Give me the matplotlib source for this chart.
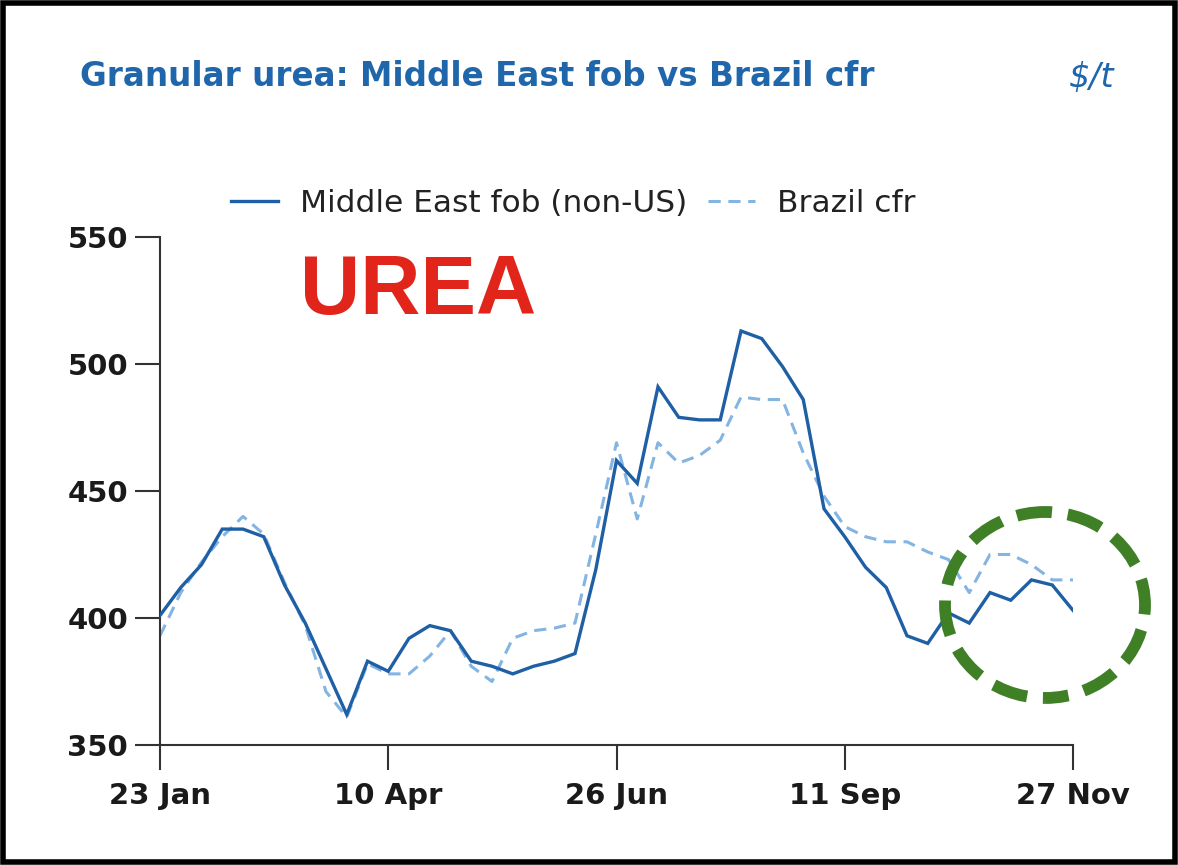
import matplotlib
matplotlib.use("Agg")
import matplotlib.pyplot as plt
from matplotlib.patches import Rectangle, Ellipse

plt.rcParams['font.family'] = ['DejaVu Sans']

weeks = list(range(45))
tick_pos = [0, 11, 22, 33, 44]
tick_labels = ["23 Jan", "10 Apr", "26 Jun", "11 Sep", "27 Nov"]
y_ticks = [350, 400, 450, 500, 550]

middle_east = [401, 412, 421, 435, 435, 432, 413, 398, 380, 362,
               383, 379, 392, 397, 395, 383, 381, 378, 381, 383,
               386, 419, 462, 453, 491, 479, 478, 478, 513, 510,
               499, 486, 443, 432, 420, 412, 393, 390, 402, 398,
               410, 407, 415, 413, 403]
brazil = [393, 410, 422, 432, 440, 433, 414, 397, 371, 361,
          382, 378, 378, 385, 395, 381, 375, 392, 395, 396,
          398, 433, 469, 439, 469, 461, 464, 470, 487, 486,
          486, 465, 448, 436, 432, 430, 430, 426, 423, 410,
          425, 425, 421, 415, 415]

fig = plt.figure(figsize=(11.78, 8.65), dpi=100)
ax = fig.add_axes([160/1178, 1-745/865, (1073-160)/1178, (745-237)/865])

l1, = ax.plot(weeks, middle_east, color='#1f5fa5', lw=2.4, label='Middle East fob (non-US)',
              solid_joinstyle='miter', zorder=3)
l2, = ax.plot(weeks, brazil, color='#84b4e2', lw=2.2, label='Brazil cfr',
              dashes=(4, 2.5), zorder=2)

ax.set_xlim(0, 44)
ax.set_ylim(350, 550)
ax.set_xticks(tick_pos)
ax.set_xticklabels(tick_labels)
ax.set_yticks(y_ticks)
for s in ['top', 'right']:
    ax.spines[s].set_visible(False)
for s in ['left', 'bottom']:
    ax.spines[s].set_color('#333333')
    ax.spines[s].set_linewidth(1.5)
ax.tick_params(axis='both', length=18, width=1.5, color='#333333',
               labelsize=21, labelcolor='#1a1a1a')
ax.tick_params(axis='y', pad=5)
ax.tick_params(axis='x', pad=9)
for lab in ax.get_xticklabels() + ax.get_yticklabels():
    lab.set_fontweight('bold')

fig.text(80/1178, 1-76/865, 'Granular urea: Middle East fob vs Brazil cfr',
         color='#1f66aa', fontsize=23.5, fontweight='bold', ha='left', va='center')
fig.text(1115/1178, 1-77/865, r'\$/t', color='#1f66aa', fontsize=24,
         style='italic', ha='right', va='center')

fig.legend(handles=[l1, l2], loc='center', bbox_to_anchor=(573/1178, 1-203/865),
           ncol=2, frameon=False, fontsize=22.5, handlelength=1.5,
           handletextpad=0.7, columnspacing=0.67, labelcolor='#222222')

fig.text(300/1178, 1-292/865, 'UREA', color='#e1251b', fontsize=60,
         fontweight='bold', family='Liberation Sans', ha='left', va='center')

ell = Ellipse((1045/1178, 1-605/865), 200/1178, 186/865, transform=fig.transFigure,
              fill=False, ec='#3f7f25', lw=8.5, linestyle=(1.0, (3.0, 1.35)), zorder=5)
fig.patches.append(ell)

border = Rectangle((3/1178, 3/865), 1172/1178, 859/865, transform=fig.transFigure,
                   fill=False, ec='black', lw=4)
fig.patches.append(border)

fig.savefig('out.png', dpi=100)
